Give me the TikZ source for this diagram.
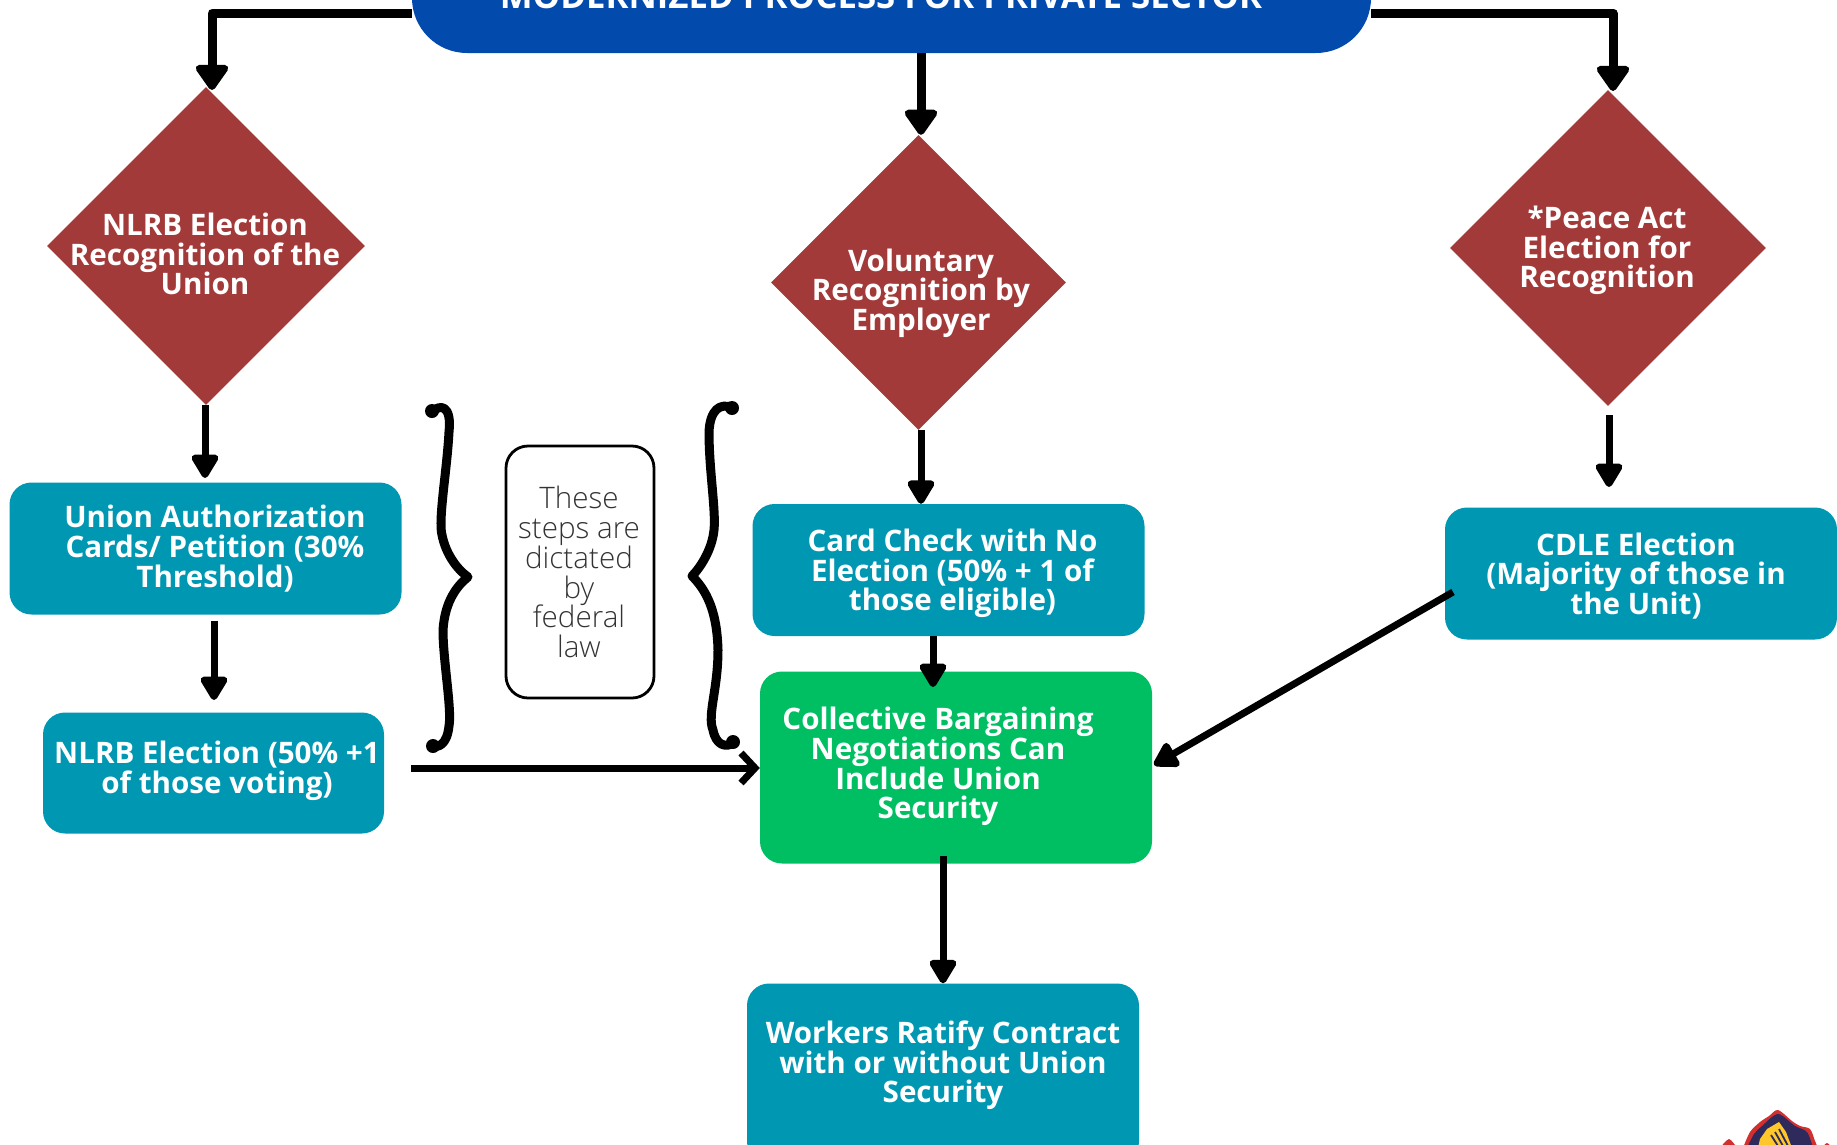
\documentclass[tikz,border=0pt]{standalone}
\usepackage{fontspec}
\setmainfont{Open Sans}
\newfontfamily\thinfont{Open Sans Light}
\usetikzlibrary{arrows.meta,shapes.geometric,calc}
\definecolor{blu}{HTML}{034AAD}
\definecolor{brick}{HTML}{A33A3A}
\definecolor{teal}{HTML}{0097B2}
\definecolor{grn}{HTML}{00BF63}
\definecolor{logored}{HTML}{D2302F}
\definecolor{logonavy}{HTML}{2E2A5C}
\definecolor{logoyel}{HTML}{FFC72C}
\tikzset{
 x=1pt,y=-1pt,
 dia/.style={diamond,fill=brick,inner sep=0,minimum width=#1,minimum height=#1},
 box/.style={rectangle,rounded corners=22pt,fill=teal,inner sep=0,minimum width=392pt,minimum height=132pt},
 lab/.style={text=white,align=center,font=\bfseries\fontsize{29.6}{29.6}\selectfont,inner sep=0},
 heavy/.style={line width=9pt,line join=round,-{Stealth[inset=0pt,length=28pt,width=37pt,round]}},
 mid/.style={line width=7pt,-{Stealth[inset=0pt,length=27pt,width=30pt,round]}},
 open/.style={line width=7pt,-{Straight Barb[length=14pt,width=30pt]}},
 brace/.style={line width=9pt,line cap=round,line join=round},
}
\begin{document}
\begin{tikzpicture}
\useasboundingbox (0,0) rectangle (1837,1144);
\begin{scope}
\clip (0,0) rectangle (1837,1144);
% nodes
\node[rectangle,rounded corners=55pt,fill=blu,inner sep=0,minimum width=959pt,minimum height=132pt] (top) at (891.5,-13) {};
\node[lab,anchor=base,font=\bfseries\fontsize{34.8}{36}\selectfont] (toptxt) at (881,8.5) {MODERNIZED PROCESS FOR PRIVATE SECTOR};
\node[dia=318pt] (ld) at (206,246) {};
\node[dia=295pt] (md) at (918.5,282.5) {};
\node[dia=316pt] (rd) at (1608,248) {};
\node[lab] (ldt) at (205,254) {NLRB Election\\Recognition of the\\Union};
\node[lab] (mdt) at (921,293) {Voluntary\\Recognition by\\Employer};
\node[lab] (rdt) at (1607,250.5) {*Peace Act\\Election for\\Recognition};
\node[box] (union) at (205.5,548.5) {};
\node[lab] at (215,548.5) {Union Authorization\\Cards/ Petition (30\%\\Threshold)};
\node[box,minimum width=341pt,minimum height=121pt] (nlrb) at (213.5,773) {};
\node[lab] at (217,770.5) {NLRB Election (50\% +1\\of those voting)};
\node[box] (card) at (948.5,570) {};
\node[lab] at (952.5,573.5) {Card Check with No\\Election (50\% + 1 of\\those eligible)};
\node[box] (cdle) at (1641,573.5) {};
\node[lab] at (1636,576) {CDLE Election\\(Majority of those in\\the Unit)};
\node[box,fill=grn,minimum height=192pt] (green) at (956,767.5) {};
\node[lab] at (938,766.5) {Collective Bargaining\\Negotiations Can\\Include Union\\Security};
\node[box,minimum height=180pt] (work) at (943,1073.5) {};
\node[lab] at (943,1065.5) {Workers Ratify Contract\\with or without Union\\Security};
\node[rectangle,rounded corners=22pt,draw=black,line width=2.8pt,inner sep=0,minimum width=148pt,minimum height=252pt] (note) at (580,572) {};
\node[text=black!80,align=center,inner sep=0,font=\thinfont\fontsize{29.6}{29.8}\selectfont] at (579,572) {These\\steps are\\dictated\\by\\federal\\law};
% connectors
\draw[heavy] (top.west |- 0,13) -- (212,13) -- (212,90);
\draw[heavy] (top.east |- 0,13) -- (1613,13) -- (1613,91);
\draw[heavy] (top.south -| 921,0) -- (md.north -| 921,0);
\draw[mid] (ld.south -| 205,0) -- (205,478);
\draw[mid] (union.south -| 214,0) ++(0,6) -- (214,700);
\draw[mid] (md.south -| 921,0) -- (card.north -| 921,0);
\draw[mid,shorten <=9pt] (rd.south -| 1609,0) -- (1609,487);
\draw[mid] (card.south -| 933,0) -- (933,687);
\draw[mid] (943,856) -- (work.north -| 943,0);
\draw[open] (411,768) -- (green.west |- 0,768);
\draw[mid] (1453,592) -- (1154,765);
% braces
\draw[brace] (431,413) .. controls (440,403) and (452,405) .. (449,432)
  .. controls (447,470) and (438,520) .. (442,535)
  .. controls (446,555) and (458,570) .. (468,577)
  .. controls (458,585) and (445,600) .. (443,630)
  .. controls (443,660) and (452,710) .. (449,726)
  .. controls (447,745) and (438,748) .. (432,746);
\draw[brace] (733,408) .. controls (720,402) and (710,410) .. (709,432)
  .. controls (709,470) and (716,510) .. (714,530)
  .. controls (712,550) and (700,568) .. (692,576)
  .. controls (706,590) and (717,610) .. (718,650)
  .. controls (718,690) and (707,715) .. (713,730)
  .. controls (716,745) and (725,748) .. (734,743);
\fill (432,411) circle (7pt) (433,746) circle (7pt) (732,408) circle (7pt) (733,742) circle (7pt);
% logo
\fill[logored] plot[smooth] coordinates {(1720,1148) (1729,1139) (1737,1148)};
\fill[logored] plot[smooth] coordinates {(1822,1148) (1827,1143) (1832,1148)};
\fill[logored] plot[smooth] coordinates {(1743,1148) (1750,1132) (1760,1122) (1769,1116) (1778,1110) (1792,1121) (1800,1126) (1810,1129) (1815,1141) (1818,1148)};
\fill[logonavy] plot[smooth] coordinates {(1747,1148) (1754,1134) (1762,1126) (1778,1114) (1795,1126) (1807,1132) (1813,1148)};
\fill[logoyel] (1758,1148) -- (1760,1139) -- (1767,1129) -- (1779,1122) -- (1786,1132) -- (1792,1148) -- cycle;
\draw[logonavy,line width=1.8pt] (1771,1135) -- (1778,1146) (1775,1132) -- (1783,1146) (1779,1129) -- (1788,1146);
\end{scope}
\end{tikzpicture}
\end{document}
